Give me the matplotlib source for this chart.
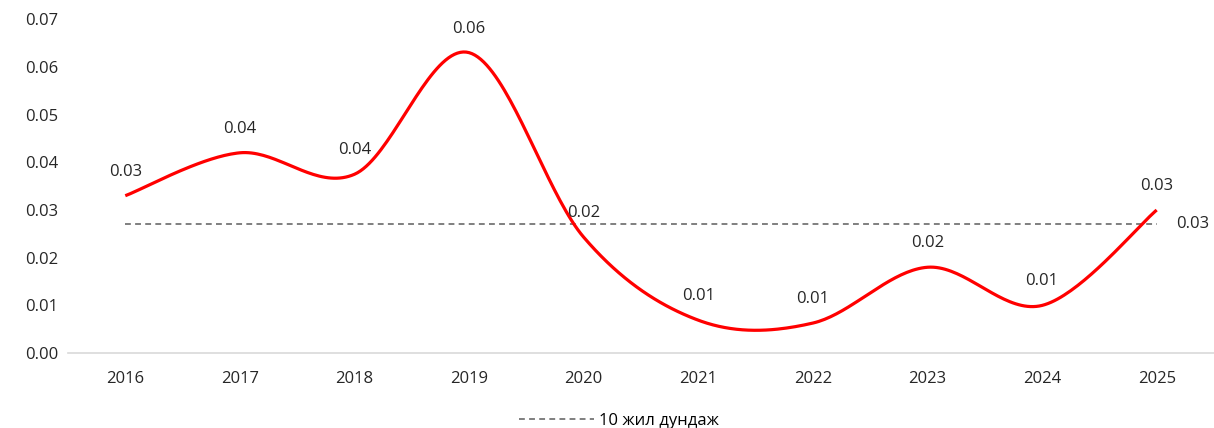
import numpy as np
import matplotlib
matplotlib.use("Agg")
import matplotlib.pyplot as plt

years = ['2016', '2017', '2018', '2019', '2020', '2021', '2022', '2023', '2024', '2025']
values = [0.033, 0.042, 0.0375, 0.063, 0.0243, 0.0069, 0.0063, 0.018, 0.010, 0.030]
avg_value = 0.027
avg_label = '10 жил дундаж'
yticks = [0.00, 0.01, 0.02, 0.03, 0.04, 0.05, 0.06, 0.07]

plt.rcParams['font.family'] = ['Open Sans', 'DejaVu Sans']
FS = 12


def smooth(xs, ys, n=40):
    # excel style smoothed line: cubic bezier with catmull-rom control points
    pts = np.column_stack([xs, ys]).astype(float)
    out = []
    for i in range(len(pts) - 1):
        p0 = pts[i - 1] if i > 0 else pts[i]
        p1 = pts[i]
        p2 = pts[i + 1]
        p3 = pts[i + 2] if i + 2 < len(pts) else pts[i + 1]
        c1 = p1 + (p2 - p0) / 6
        c2 = p2 - (p3 - p1) / 6
        t = np.linspace(0, 1, n)[:, None]
        seg = (1 - t) ** 3 * p1 + 3 * (1 - t) ** 2 * t * c1 + 3 * (1 - t) * t ** 2 * c2 + t ** 3 * p2
        out.append(seg if i == 0 else seg[1:])
    out = np.vstack(out)
    return out[:, 0], out[:, 1]


x = np.arange(len(years))
fig = plt.figure(figsize=(12.14, 4.28), dpi=100)
ax = fig.add_axes([0.056, 0.175, 0.944, 0.78])

sx, sy = smooth(x, values)
ax.plot(sx, sy, color='#ff0000', lw=2.3, solid_capstyle='butt', zorder=3)
avg_line, = ax.plot(x, [avg_value] * len(x), color='#7f7f7f', lw=1.4,
                    dashes=(3.0, 2.2), zorder=2)

for xi, v in zip(x, values):
    ax.annotate(f'{v:.2f}', (xi, v), xytext=(0, 24), textcoords='offset pixels',
                ha='center', va='center', fontsize=FS, color='#262626')
ax.annotate(f'{avg_value:.2f}', (x[-1], avg_value), xytext=(19, 0),
            textcoords='offset pixels', ha='left', va='center',
            fontsize=FS, color='#262626')

ax.set_xlim(-0.5, len(years) - 0.5)
ax.set_ylim(0, 0.07)
ax.set_xticks(x)
ax.set_xticklabels(years)
ax.set_yticks(yticks)
ax.set_yticklabels([f'{t:.2f}' for t in yticks])
ax.tick_params(length=0, labelsize=FS, colors='#262626')
ax.tick_params(axis='x', pad=13)
ax.tick_params(axis='y', pad=7)
for s in ['top', 'right', 'left']:
    ax.spines[s].set_visible(False)
ax.spines['bottom'].set_color('#d9d9d9')
ax.spines['bottom'].set_linewidth(1.2)

fig.legend([avg_line], [avg_label], loc='lower center', bbox_to_anchor=(0.51, -0.038),
           frameon=False, fontsize=FS, handlelength=4.5, handletextpad=0.3)

fig.savefig('out.png', dpi=100)
